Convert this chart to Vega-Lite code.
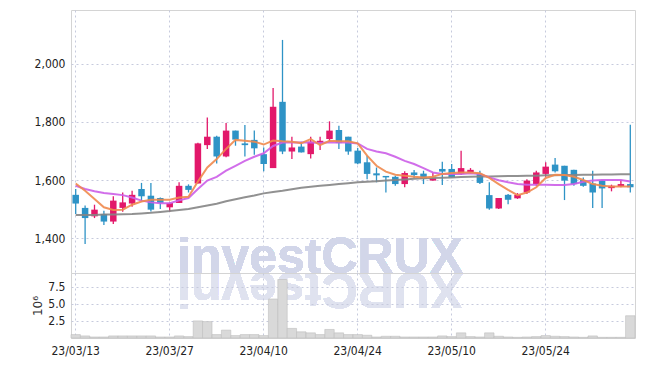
{
  "$schema": "https://vega.github.io/schema/vega-lite/v6.json",
  "background": "white",
  "padding": {"left": 31, "top": 9, "right": 10, "bottom": 5},
  "spacing": 0,
  "bounds": "flush",
  "config": {
    "view": {"stroke": "#d4d4d4", "strokeWidth": 1},
    "axis": {"labelFont": "DejaVu Sans Condensed, Liberation Sans Narrow, Roboto", "labelFontSize": 12, "labelColor": "#222", "titleFont": "DejaVu Sans", "gridColor": "#c6cadd", "gridDash": [2, 3], "gridWidth": 1, "ticks": false, "domain": false, "labelOverlap": false}
  },
  "data": {"values": [
    {"d":"23/03/13","o":1549,"h":1569,"l":1483,"c":1519,"vm":0.5,"ma5":1588,"ma20":1580,"ma60":1480},
    {"d":"23/03/14","o":1504,"h":1512,"l":1380,"c":1469,"vm":0.3,"ma5":1563,"ma20":1569,"ma60":1480},
    {"d":"23/03/15","o":1475,"h":1515,"l":1469,"c":1498,"vm":0.15,"ma5":1535,"ma20":1561,"ma60":1480},
    {"d":"23/03/16","o":1483,"h":1494,"l":1445,"c":1457,"vm":0.15,"ma5":1506,"ma20":1555,"ma60":1481},
    {"d":"23/03/17","o":1457,"h":1544,"l":1449,"c":1529,"vm":0.3,"ma5":1497,"ma20":1552,"ma60":1481},
    {"d":"23/03/20","o":1504,"h":1557,"l":1491,"c":1523,"vm":0.3,"ma5":1498,"ma20":1548,"ma60":1482},
    {"d":"23/03/21","o":1519,"h":1563,"l":1508,"c":1549,"vm":0.3,"ma5":1515,"ma20":1540,"ma60":1483},
    {"d":"23/03/22","o":1569,"h":1590,"l":1526,"c":1544,"vm":0.3,"ma5":1526,"ma20":1529,"ma60":1485},
    {"d":"23/03/23","o":1546,"h":1590,"l":1492,"c":1498,"vm":0.3,"ma5":1532,"ma20":1523,"ma60":1487},
    {"d":"23/03/24","o":1538,"h":1540,"l":1500,"c":1521,"vm":0.15,"ma5":1532,"ma20":1520,"ma60":1490},
    {"d":"23/03/27","o":1506,"h":1523,"l":1491,"c":1521,"vm":0.15,"ma5":1532,"ma20":1520,"ma60":1493},
    {"d":"23/03/28","o":1521,"h":1592,"l":1521,"c":1580,"vm":0.3,"ma5":1540,"ma20":1530,"ma60":1497},
    {"d":"23/03/29","o":1580,"h":1585,"l":1557,"c":1566,"vm":0.2,"ma5":1542,"ma20":1538,"ma60":1500},
    {"d":"23/03/30","o":1588,"h":1728,"l":1588,"c":1726,"vm":2.5,"ma5":1595,"ma20":1569,"ma60":1506},
    {"d":"23/03/31","o":1720,"h":1815,"l":1707,"c":1749,"vm":2.4,"ma5":1643,"ma20":1598,"ma60":1512},
    {"d":"23/04/03","o":1749,"h":1752,"l":1657,"c":1681,"vm":0.5,"ma5":1672,"ma20":1611,"ma60":1518},
    {"d":"23/04/04","o":1681,"h":1796,"l":1678,"c":1770,"vm":1.15,"ma5":1707,"ma20":1632,"ma60":1527},
    {"d":"23/04/05","o":1770,"h":1770,"l":1718,"c":1739,"vm":0.35,"ma5":1738,"ma20":1649,"ma60":1534},
    {"d":"23/04/06","o":1726,"h":1789,"l":1681,"c":1720,"vm":0.5,"ma5":1735,"ma20":1666,"ma60":1541},
    {"d":"23/04/07","o":1738,"h":1770,"l":1687,"c":1709,"vm":0.5,"ma5":1732,"ma20":1680,"ma60":1547},
    {"d":"23/04/10","o":1689,"h":1712,"l":1630,"c":1655,"vm":0.35,"ma5":1722,"ma20":1692,"ma60":1554},
    {"d":"23/04/11","o":1641,"h":1917,"l":1641,"c":1852,"vm":5.7,"ma5":1736,"ma20":1717,"ma60":1559},
    {"d":"23/04/12","o":1869,"h":2082,"l":1689,"c":1698,"vm":8.55,"ma5":1733,"ma20":1729,"ma60":1563},
    {"d":"23/04/13","o":1698,"h":1749,"l":1672,"c":1712,"vm":1.4,"ma5":1732,"ma20":1729,"ma60":1568},
    {"d":"23/04/14","o":1715,"h":1732,"l":1695,"c":1695,"vm":0.9,"ma5":1727,"ma20":1729,"ma60":1573},
    {"d":"23/04/17","o":1689,"h":1749,"l":1674,"c":1732,"vm":0.75,"ma5":1741,"ma20":1729,"ma60":1577},
    {"d":"23/04/18","o":1726,"h":1749,"l":1703,"c":1735,"vm":0.5,"ma5":1720,"ma20":1727,"ma60":1580},
    {"d":"23/04/19","o":1741,"h":1802,"l":1733,"c":1770,"vm":1.25,"ma5":1735,"ma20":1730,"ma60":1583},
    {"d":"23/04/20","o":1772,"h":1787,"l":1707,"c":1727,"vm":0.75,"ma5":1733,"ma20":1729,"ma60":1586},
    {"d":"23/04/21","o":1749,"h":1749,"l":1687,"c":1698,"vm":0.5,"ma5":1733,"ma20":1729,"ma60":1589},
    {"d":"23/04/24","o":1701,"h":1710,"l":1654,"c":1657,"vm":0.5,"ma5":1726,"ma20":1726,"ma60":1592},
    {"d":"23/04/25","o":1661,"h":1684,"l":1603,"c":1621,"vm":0.4,"ma5":1684,"ma20":1707,"ma60":1594},
    {"d":"23/04/26","o":1623,"h":1643,"l":1592,"c":1616,"vm":0.15,"ma5":1649,"ma20":1698,"ma60":1596},
    {"d":"23/04/27","o":1614,"h":1614,"l":1557,"c":1609,"vm":0.25,"ma5":1629,"ma20":1692,"ma60":1598},
    {"d":"23/04/28","o":1611,"h":1615,"l":1580,"c":1586,"vm":0.25,"ma5":1618,"ma20":1680,"ma60":1600},
    {"d":"23/05/02","o":1586,"h":1630,"l":1575,"c":1624,"vm":0.15,"ma5":1615,"ma20":1666,"ma60":1602},
    {"d":"23/05/03","o":1626,"h":1634,"l":1607,"c":1617,"vm":0.15,"ma5":1611,"ma20":1655,"ma60":1604},
    {"d":"23/05/04","o":1622,"h":1632,"l":1586,"c":1604,"vm":0.15,"ma5":1609,"ma20":1641,"ma60":1606},
    {"d":"23/05/08","o":1598,"h":1626,"l":1598,"c":1606,"vm":0.15,"ma5":1611,"ma20":1626,"ma60":1607},
    {"d":"23/05/09","o":1638,"h":1663,"l":1583,"c":1629,"vm":0.3,"ma5":1621,"ma20":1621,"ma60":1608},
    {"d":"23/05/10","o":1638,"h":1655,"l":1609,"c":1609,"vm":0.2,"ma5":1624,"ma20":1621,"ma60":1609},
    {"d":"23/05/11","o":1621,"h":1701,"l":1617,"c":1641,"vm":0.75,"ma5":1626,"ma20":1621,"ma60":1610},
    {"d":"23/05/12","o":1626,"h":1641,"l":1623,"c":1635,"vm":0.2,"ma5":1626,"ma20":1623,"ma60":1611},
    {"d":"23/05/15","o":1621,"h":1632,"l":1586,"c":1590,"vm":0.15,"ma5":1623,"ma20":1621,"ma60":1612},
    {"d":"23/05/16","o":1548,"h":1592,"l":1498,"c":1502,"vm":0.75,"ma5":1607,"ma20":1609,"ma60":1612},
    {"d":"23/05/17","o":1502,"h":1538,"l":1500,"c":1538,"vm":0.25,"ma5":1586,"ma20":1599,"ma60":1613},
    {"d":"23/05/18","o":1549,"h":1552,"l":1517,"c":1532,"vm":0.15,"ma5":1566,"ma20":1592,"ma60":1614},
    {"d":"23/05/19","o":1537,"h":1555,"l":1535,"c":1549,"vm":0.1,"ma5":1548,"ma20":1586,"ma60":1614},
    {"d":"23/05/22","o":1557,"h":1603,"l":1552,"c":1598,"vm":0.15,"ma5":1557,"ma20":1584,"ma60":1615},
    {"d":"23/05/23","o":1586,"h":1632,"l":1580,"c":1626,"vm":0.2,"ma5":1575,"ma20":1584,"ma60":1615},
    {"d":"23/05/24","o":1621,"h":1661,"l":1611,"c":1646,"vm":0.35,"ma5":1607,"ma20":1584,"ma60":1616},
    {"d":"23/05/25","o":1653,"h":1676,"l":1626,"c":1630,"vm":0.25,"ma5":1618,"ma20":1583,"ma60":1616},
    {"d":"23/05/26","o":1649,"h":1649,"l":1531,"c":1598,"vm":0.2,"ma5":1617,"ma20":1583,"ma60":1617},
    {"d":"23/05/30","o":1635,"h":1635,"l":1580,"c":1586,"vm":0.15,"ma5":1611,"ma20":1586,"ma60":1617},
    {"d":"23/05/31","o":1600,"h":1609,"l":1577,"c":1580,"vm":0.1,"ma5":1600,"ma20":1594,"ma60":1618},
    {"d":"23/06/01","o":1588,"h":1632,"l":1504,"c":1557,"vm":0.3,"ma5":1586,"ma20":1598,"ma60":1618},
    {"d":"23/06/02","o":1598,"h":1598,"l":1504,"c":1571,"vm":0.1,"ma5":1580,"ma20":1600,"ma60":1619},
    {"d":"23/06/05","o":1572,"h":1584,"l":1561,"c":1580,"vm":0.1,"ma5":1578,"ma20":1600,"ma60":1619},
    {"d":"23/06/07","o":1578,"h":1600,"l":1575,"c":1586,"vm":0.1,"ma5":1578,"ma20":1600,"ma60":1620},
    {"d":"23/06/08","o":1586,"h":1790,"l":1557,"c":1575,"vm":3.25,"ma5":1578,"ma20":1595,"ma60":1620}
  ]},
  "vconcat": [
    {
      "width": 564,
      "height": 263,
      "encoding": {
        "x": {"field": "d", "type": "ordinal", "scale": {"type": "band", "paddingInner": 0, "paddingOuter": 0},
              "axis": {"title": null, "labels": false, "grid": true, "bandPosition": 0.5, "values": ["23/03/13","23/03/27","23/04/10","23/04/24","23/05/10","23/05/24"]}}
      },
      "layer": [
        {
          "mark": {"type": "text", "text": "investCRUX", "font": "Liberation Sans", "fontWeight": "bold", "fontSize": 50, "color": "#d2d6e9", "baseline": "alphabetic", "align": "center"},
          "encoding": {"x": {"datum": "23/04/18"}, "y": {"datum": 1280, "type": "quantitative", "scale": {"domain": [1280, 2185], "nice": false, "zero": false},
                  "axis": {"title": null, "grid": true, "gridColor": "#c6cadd", "gridDash": [2, 3], "labelOverlap": false, "values": [1400, 1600, 1800, 2000], "labelExpr": "format(datum.value, ',')", "labelPadding": 6}}}
        },
        {
          "mark": {"type": "text", "text": "XURCtsevni", "font": "Liberation Sans", "fontWeight": "bold", "fontSize": 50, "color": "#dfe2ef", "baseline": "alphabetic", "align": "center", "angle": 180},
          "encoding": {"x": {"datum": "23/04/18"}, "y": {"datum": 1280, "type": "quantitative"}}
        },
        {
          "mark": {"type": "rule", "strokeWidth": 1.3},
          "encoding": {
            "y": {"field": "l", "type": "quantitative"},
            "y2": {"field": "h"},
            "color": {"condition": {"test": "datum.c >= datum.o", "value": "#e2186a"}, "value": "#2e93c6"}
          }
        },
        {
          "mark": {"type": "bar", "size": 6.5},
          "encoding": {
            "y": {"field": "o", "type": "quantitative"},
            "y2": {"field": "c"},
            "color": {"condition": {"test": "datum.c >= datum.o", "value": "#e2186a"}, "value": "#2e93c6"}
          }
        },
        {
          "mark": {"type": "line", "color": "#858585", "strokeWidth": 2, "opacity": 0.9},
          "encoding": {"y": {"field": "ma60", "type": "quantitative"}}
        },
        {
          "mark": {"type": "line", "color": "#cc5ee8", "strokeWidth": 2, "opacity": 0.9},
          "encoding": {"y": {"field": "ma20", "type": "quantitative"}}
        },
        {
          "mark": {"type": "line", "color": "#f08a4e", "strokeWidth": 2, "opacity": 0.9},
          "encoding": {"y": {"field": "ma5", "type": "quantitative"}}
        }
      ]
    },
    {
      "width": 564,
      "height": 65,
      "mark": {"type": "bar", "color": "#d9d9d9", "stroke": "#bdbdbd", "strokeWidth": 0.6},
      "encoding": {
        "x": {"field": "d", "type": "ordinal", "scale": {"type": "band", "paddingInner": 0, "paddingOuter": 0},
              "axis": {"title": null, "labelAngle": 0, "labelPadding": 7, "grid": true, "bandPosition": 0.5, "values": ["23/03/13","23/03/27","23/04/10","23/04/24","23/05/10","23/05/24"]}},
        "y": {"field": "vm", "type": "quantitative", "scale": {"domain": [0, 9.5], "nice": false},
              "axis": {"title": "10⁶", "grid": true, "labelOverlap": false, "titleFontWeight": "normal", "titleFontSize": 12, "titleColor": "#333", "titlePadding": 3, "values": [2.5, 5, 7.5], "format": ".1f", "labelPadding": 6}}
      }
    }
  ]
}
